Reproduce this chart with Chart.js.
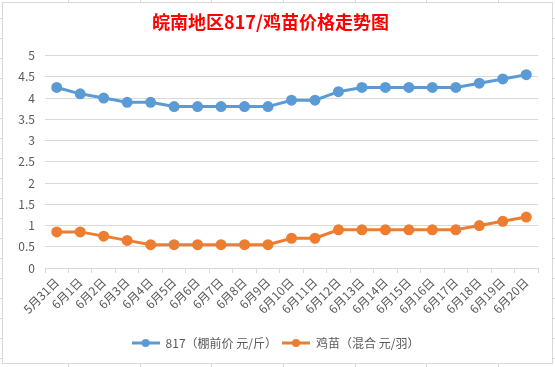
<!DOCTYPE html>
<html>
<head>
<meta charset="utf-8">
<script src="https://cdn.jsdelivr.net/npm/chart.js@4/dist/chart.umd.min.js"></script>
<style>
    html, body {
        margin: 0;
        padding: 0;
        width: 555px;
        height: 367px;
        overflow: hidden;
        background-color: #fff;
        background-image:
            repeating-linear-gradient(to right, transparent 0, transparent 68px, #d9d9d9 68px, #d9d9d9 69px, transparent 69px, transparent 71.7px),
            repeating-linear-gradient(to bottom, transparent 0, transparent 18px, #d9d9d9 18px, #d9d9d9 19px, transparent 19px, transparent 20px);
    }
    #frame {
        position: absolute;
        left: 2px;
        top: 2px;
        width: 549px;
        height: 360px;
        border: 1px solid #d9d9d9;
        background: #fff;
    }
</style>
</head>
<body>
<div id="frame"><canvas id="priceChart" width="549" height="360"></canvas></div>
<script>
const categories = ['5月31日', '6月1日', '6月2日', '6月3日', '6月4日', '6月5日', '6月6日',
    '6月7日', '6月8日', '6月9日', '6月10日', '6月11日', '6月12日', '6月13日', '6月14日',
    '6月15日', '6月16日', '6月17日', '6月18日', '6月19日', '6月20日'];

// 817 棚前价 (元/斤)
const price817 = [4.25, 4.1, 4.0, 3.9, 3.9, 3.8, 3.8, 3.8, 3.8, 3.8, 3.95,
    3.95, 4.15, 4.25, 4.25, 4.25, 4.25, 4.25, 4.35, 4.45, 4.55];

// 鸡苗 混合 (元/羽)
const chickPrice = [0.85, 0.85, 0.75, 0.65, 0.55, 0.55, 0.55, 0.55, 0.55, 0.55, 0.7,
    0.7, 0.9, 0.9, 0.9, 0.9, 0.9, 0.9, 1.0, 1.1, 1.2];

const seriesNames = ['817（棚前价 元/斤）', '鸡苗（混合 元/羽）'];
const seriesColors = ['#5b9bd5', '#ed7d31'];

const FONT = '"Noto Sans CJK SC", "Noto Sans", sans-serif';
const TEXT = '#595959';

// legend marker: short line with a dot, like the spreadsheet legend
function legendMarker(color) {
    const c = document.createElement('canvas');
    c.width = 28;
    c.height = 10;
    const ctx = c.getContext('2d');
    ctx.strokeStyle = color;
    ctx.lineWidth = 3;
    ctx.beginPath();
    ctx.moveTo(0, 5);
    ctx.lineTo(28, 5);
    ctx.stroke();
    ctx.fillStyle = color;
    ctx.beginPath();
    ctx.arc(14, 5, 4, 0, Math.PI * 2);
    ctx.fill();
    return c;
}
const markers = seriesColors.map(legendMarker);

function lineSet(label, data, color) {
    return {
        label: label,
        data: data,
        borderColor: color,
        backgroundColor: color,
        borderWidth: 3,
        pointRadius: 4,
        pointHoverRadius: 4,
        pointBackgroundColor: color,
        pointBorderColor: color,
        tension: 0,
        fill: false
    };
}

const shiftLegend = {
    id: 'shiftLegend',
    afterLayout(chart) {
        chart.legend.left += 5;
        chart.legend.right += 5;
    }
};

new Chart(document.getElementById('priceChart'), {
    type: 'line',
    data: {
        labels: categories,
        datasets: [
            lineSet(seriesNames[0], price817, seriesColors[0]),
            lineSet(seriesNames[1], chickPrice, seriesColors[1])
        ]
    },
    plugins: [shiftLegend],
    options: {
        responsive: false,
        animation: false,
        layout: {
            padding: { left: 0, right: 14, top: 0, bottom: 4 }
        },
        plugins: {
            title: {
                display: true,
                text: '皖南地区817/鸡苗价格走势图',
                color: '#ff0000',
                font: { family: FONT, size: 18, weight: 'bold' },
                padding: { top: 8, bottom: 23 }
            },
            legend: {
                position: 'bottom',
                labels: {
                    usePointStyle: true,
                    pointStyleWidth: 28,
                    padding: 5,
                    color: TEXT,
                    font: { family: FONT, size: 12 },
                    generateLabels(chart) {
                        const items = Chart.defaults.plugins.legend.labels.generateLabels(chart);
                        items.forEach((item, i) => { item.pointStyle = markers[i]; });
                        return items;
                    }
                }
            },
            tooltip: { enabled: false }
        },
        scales: {
            x: {
                offset: true,
                afterFit(scale) { scale.height = 64; },
                grid: {
                    offset: true,
                    drawOnChartArea: false,
                    tickLength: 5,
                    color: '#d9d9d9'
                },
                border: { color: '#d9d9d9' },
                ticks: {
                    autoSkip: false,
                    minRotation: 45,
                    maxRotation: 45,
                    padding: 2,
                    color: TEXT,
                    font: { family: FONT, size: 12 }
                }
            },
            y: {
                min: 0,
                max: 5,
                afterFit(scale) { scale.width = 42; },
                grid: { color: '#d9d9d9', drawTicks: false },
                border: { display: false },
                ticks: {
                    stepSize: 0.5,
                    padding: 10,
                    color: TEXT,
                    font: { family: FONT, size: 12 },
                    callback: (value) => String(value)
                }
            }
        }
    }
});
</script>
</body>
</html>
